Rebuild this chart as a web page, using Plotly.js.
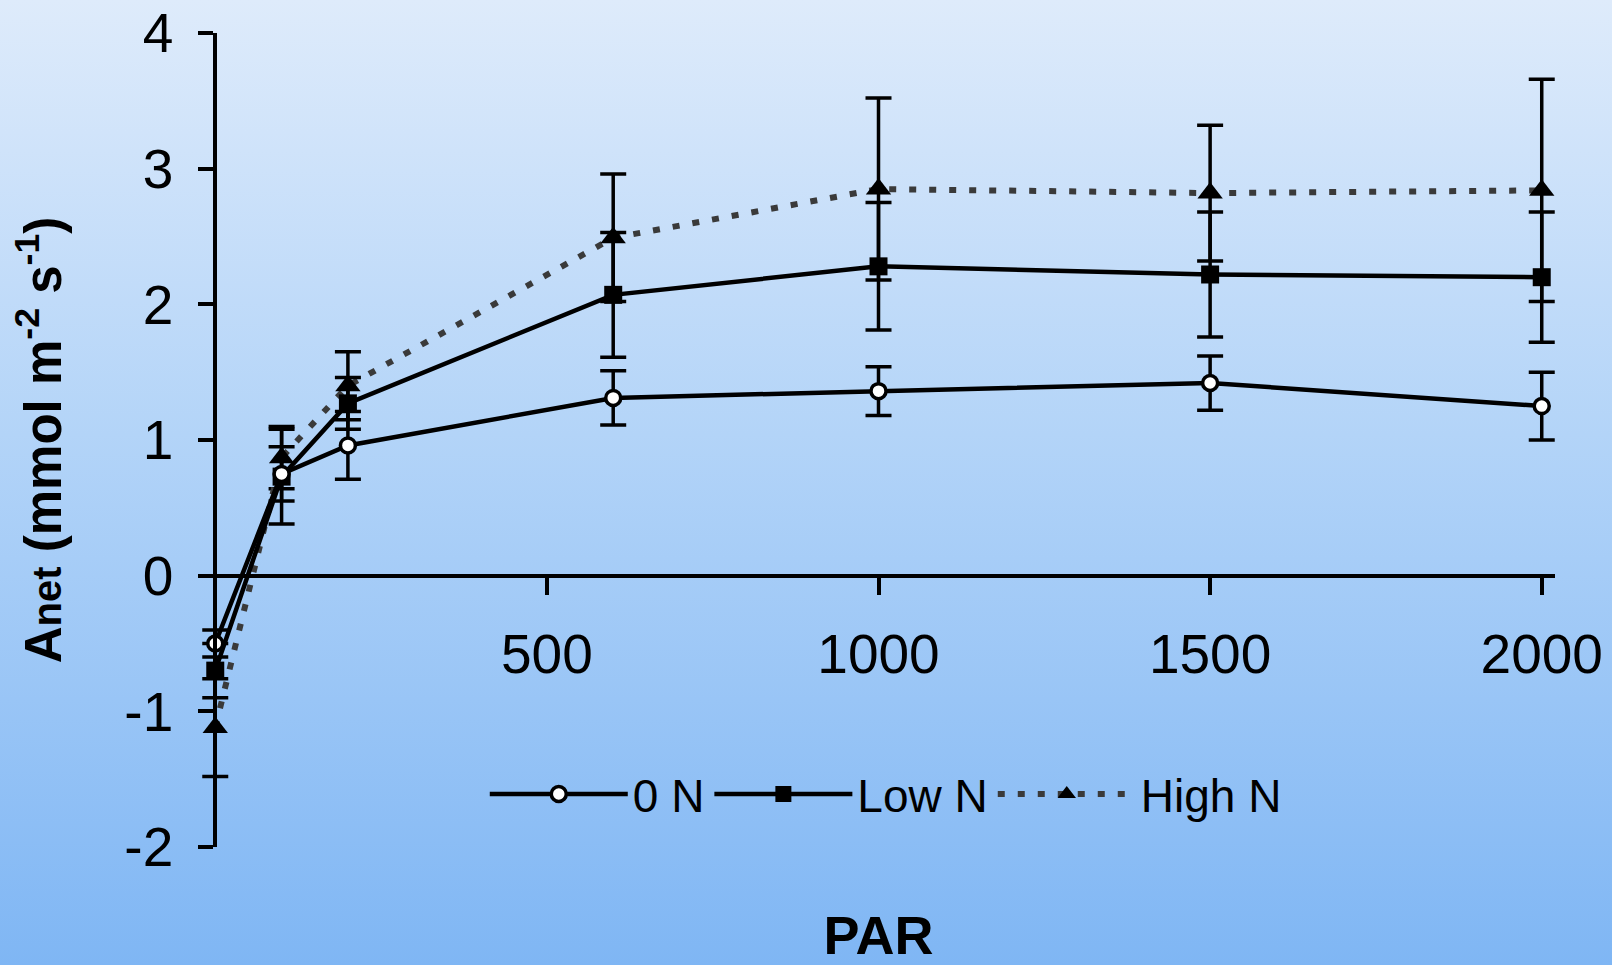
<!DOCTYPE html>
<html>
<head>
<meta charset="utf-8">
<script src="https://cdn.plot.ly/plotly-3.0.1.min.js"></script>
<style>
  html, body { margin: 0; padding: 0; }
  body { width: 1612px; height: 965px; background: linear-gradient(to bottom, #deebfb 0%, #b3d4f8 45%, #7fb6f4 100%); }
  #chart { width: 1612px; height: 965px; }
</style>
</head>
<body>
<div id="chart"></div>
<script>
// PAR levels (x)
const par = [0, 100, 200, 600, 1000, 1500, 2000];
// Anet means and error bars per treatment
const zeroN    = [-0.50, 0.75, 0.96, 1.31, 1.36, 1.42, 1.25];
const zeroNErr = [0.10, 0.20, 0.25, 0.20, 0.18, 0.20, 0.25];
const lowN     = [-0.70, 0.73, 1.27, 2.07, 2.28, 2.22, 2.20];
const lowNErr  = [0.20, 0.35, 0.19, 0.46, 0.47, 0.46, 0.48];
const highN    = [-1.12, 0.87, 1.40, 2.49, 2.85, 2.82, 2.84];
const highNErr = [0.36, 0.23, 0.25, 0.47, 0.67, 0.50, 0.82];
// names and ticks
const seriesNames = ['0 N', 'Low N', 'High N'];
const xTicks = [500, 1000, 1500, 2000];
const yTicks = [-2, -1, 0, 1, 2, 3, 4];

const xRange = [-20, 2020];
const yAxisPos = (0 - xRange[0]) / (xRange[1] - xRange[0]);

const errStyle = (arr) => ({type: 'data', array: arr, visible: true, color: '#000', thickness: 3.5, width: 13});

const traces = [
  {
    x: par, y: highN, name: seriesNames[2], mode: 'lines+markers', type: 'scatter', cliponaxis: false,
    line: {color: '#3a3a3a', width: 6, dash: '7px,13px'},
    marker: {symbol: 'triangle-up', size: 22, color: '#000'},
    error_y: errStyle(highNErr), legendrank: 3
  },
  {
    x: par, y: lowN, name: seriesNames[1], mode: 'lines+markers', type: 'scatter', cliponaxis: false,
    line: {color: '#000', width: 4.5},
    marker: {symbol: 'square', size: 18, color: '#000'},
    error_y: errStyle(lowNErr), legendrank: 2
  },
  {
    x: par, y: zeroN, name: seriesNames[0], mode: 'lines+markers', type: 'scatter', cliponaxis: false,
    line: {color: '#000', width: 4.5},
    marker: {symbol: 'circle', size: 15, color: '#ffffff', line: {color: '#000', width: 3.5}},
    error_y: errStyle(zeroNErr), legendrank: 1
  }
];

const layout = {
  width: 1612, height: 965,
  margin: {l: 202, r: 57, t: 33, b: 118},
  paper_bgcolor: 'rgba(0,0,0,0)',
  plot_bgcolor: 'rgba(0,0,0,0)',
  font: {family: 'Liberation Sans, Arial, sans-serif', color: '#000'},
  showlegend: true,
  legend: {
    orientation: 'h', x: 0.209, xanchor: 'left', y: 0.065, yanchor: 'middle',
    bgcolor: 'rgba(0,0,0,0)', itemwidth: 138, traceorder: 'normal',
    font: {family: 'Liberation Sans Narrow, Liberation Sans, Arial, sans-serif', size: 46, color: '#000'}
  },
  xaxis: {
    range: xRange, anchor: 'free', position: 1/3,
    showgrid: false, zeroline: false, showline: true, linecolor: '#000', linewidth: 4,
    ticks: 'outside', ticklen: 17, tickwidth: 4, tickcolor: '#000',
    tickvals: xTicks, ticktext: xTicks.map(String),
    ticklabelstandoff: 12,
    tickfont: {size: 55, family: 'Liberation Sans, Arial, sans-serif'},
    title: {text: 'PAR', font: {size: 54, weight: 'bold'}, standoff: 245}
  },
  yaxis: {
    range: [-2, 4], anchor: 'free', position: yAxisPos,
    showgrid: false, zeroline: false, showline: true, linecolor: '#000', linewidth: 4,
    ticks: 'outside', ticklen: 15, tickwidth: 4, tickcolor: '#000',
    tickvals: yTicks, ticktext: yTicks.map(String),
    ticklabelstandoff: 14,
    tickfont: {size: 55, family: 'Liberation Sans, Arial, sans-serif'},
    title: {text: 'A<span style="font-size:40px">net</span> (mmol m<sup>-2</sup> s<sup>-1</sup>)', font: {size: 51, weight: 'bold'}, standoff: 46}
  }
};

Plotly.newPlot('chart', traces, layout, {displayModeBar: false, staticPlot: true});
</script>
</body>
</html>
